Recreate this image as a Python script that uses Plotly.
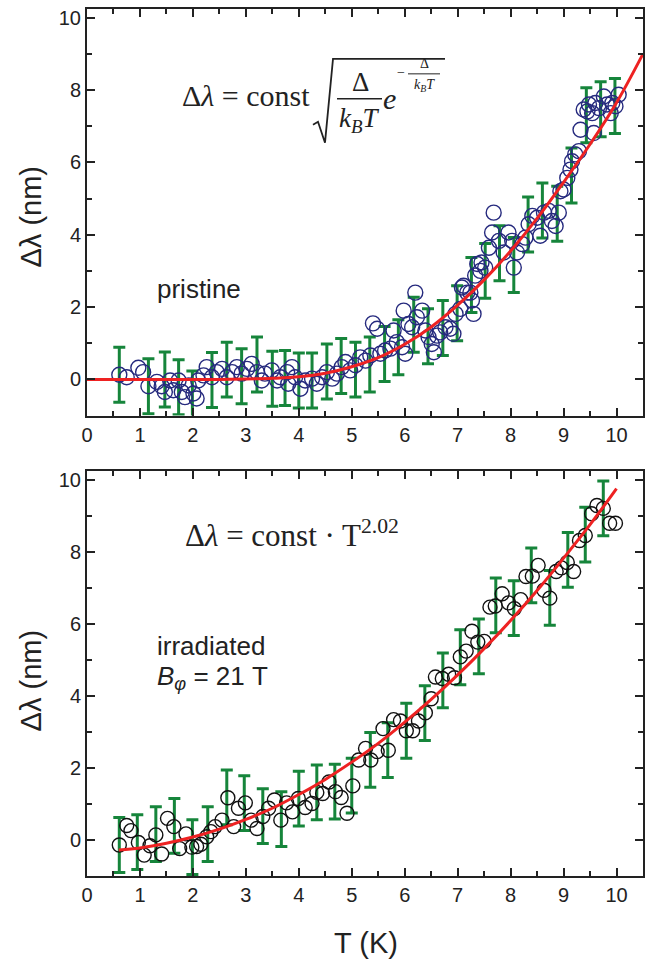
import plotly.graph_objects as go

# ---- pristine (top panel) ----
pristine_T = [0.61, 0.75, 0.97, 1.06, 1.16, 1.32, 1.41, 1.47, 1.57, 1.63, 1.73, 1.79, 1.85, 1.92,
              2.01, 2.07, 2.10, 2.20, 2.26, 2.36, 2.45, 2.55, 2.64, 2.74, 2.83, 2.92, 3.02, 3.11,
              3.21, 3.30, 3.36, 3.49, 3.59, 3.65, 3.78, 3.80, 3.87, 3.93, 4.03, 4.12, 4.25, 4.34,
              4.44, 4.53, 4.63, 4.72, 4.81, 4.88, 4.97, 5.07, 5.16, 5.26, 5.35, 5.40, 5.48, 5.54,
              5.63, 5.73, 5.79, 5.85, 5.95, 5.98, 6.01, 6.07, 6.14, 6.20, 6.23, 6.33, 6.39, 6.45,
              6.51, 6.55, 6.61, 6.67, 6.77, 6.86, 6.92, 6.96, 7.05, 7.08, 7.11, 7.18, 7.24, 7.27,
              7.30, 7.33, 7.37, 7.43, 7.45, 7.52, 7.59, 7.65, 7.68, 7.78, 7.87, 7.96, 8.03, 8.06,
              8.12, 8.22, 8.28, 8.34, 8.41, 8.50, 8.56, 8.63, 8.72, 8.78, 8.85, 8.91, 8.94, 9.00,
              9.07, 9.13, 9.16, 9.22, 9.29, 9.32, 9.38, 9.45, 9.48, 9.54, 9.57, 9.60, 9.67, 9.76,
              9.82, 9.89, 9.92, 9.98, 10.04]
pristine_dl = [0.13, 0.06, 0.32, 0.20, -0.19, -0.07, -0.19, -0.35, -0.03, -0.30, -0.03, -0.35, -0.49, -0.17,
               -0.39, -0.53, -0.03, 0.11, 0.34, 0.06, 0.20, 0.29, 0.06, 0.20, 0.34, 0.16, 0.29, 0.43,
               0.20, -0.03, 0.16, 0.25, -0.03, 0.06, 0.20, -0.12, 0.34, 0.06, -0.26, -0.03, 0.02, -0.12,
               0.06, 0.20, 0.02, 0.16, 0.34, 0.48, 0.25, 0.39, 0.61, 0.52, 0.66, 1.55, 1.40, 0.71,
               0.80, 0.85, 1.35, 1.03, 0.89, 1.90, 0.71, 1.53, 1.44, 2.40, 1.72, 1.90, 1.35, 1.17,
               0.98, 0.75, 1.21, 1.30, 1.44, 1.40, 1.26, 1.81, 1.95, 2.54, 2.59, 2.40, 2.40, 2.18,
               1.81, 2.87, 3.19, 3.00, 3.23, 3.09, 3.64, 4.06, 4.61, 3.83, 3.51, 4.06, 3.83, 3.09,
               3.51, 3.74, 3.92, 4.29, 4.52, 4.47, 3.97, 4.61, 4.66, 4.38, 4.24, 4.61, 5.20, 5.25,
               5.57, 5.80, 6.03, 6.22, 6.31, 6.90, 7.46, 7.41, 7.60, 7.36, 6.81, 7.64, 7.50, 7.82,
               7.60, 7.36, 7.64, 7.55, 7.87]

pristine_err_T = [0.61, 1.16, 1.47, 1.73, 1.99, 2.36, 2.64, 2.92, 3.21, 3.50, 3.74, 4.00, 4.25, 4.53,
                  4.80, 5.07, 5.34, 5.62, 5.88, 6.17, 6.44, 6.72, 6.99, 7.26, 7.52, 7.79, 8.06, 8.33,
                  8.60, 8.88, 9.15, 9.43, 9.70, 9.97]
pristine_err_mid = [0.13, -0.19, 0.00, -0.22, -0.53, -0.02, 0.27, 0.09, 0.41, 0.02, 0.04, -0.03, -0.03, 0.22,
                    0.37, 0.27, 0.41, 0.70, 0.89, 1.51, 1.19, 1.42, 1.83, 2.61, 3.00, 3.49, 3.16, 4.28,
                    4.67, 4.58, 5.64, 7.30, 7.47, 7.56]
pristine_err_half = [0.76] * len(pristine_err_T)

pristine_fit_T = [0.0, 0.5, 1.0, 1.5, 2.0, 2.5, 3.0, 3.5, 4.0, 4.5, 5.0, 5.5, 6.0, 6.5, 7.0, 7.5,
                  8.0, 8.5, 9.0, 9.5, 10.0, 10.5]
pristine_fit_dl = [0.0, 0.0, 0.0, 0.0, 0.0, 0.0, 0.01, 0.03, 0.07, 0.17, 0.35, 0.60, 0.97, 1.45, 2.05, 2.75,
                   3.55, 4.45, 5.45, 6.50, 7.65, 9.00]

# ---- irradiated (bottom panel) ----
irr_T = [0.61, 0.75, 0.83, 0.97, 1.08, 1.19, 1.30, 1.41, 1.52, 1.64, 1.75, 1.87, 1.98, 2.07, 2.15,
         2.26, 2.34, 2.42, 2.55, 2.66, 2.77, 2.86, 2.99, 3.10, 3.21, 3.32, 3.43, 3.54, 3.66, 3.77,
         3.88, 3.99, 4.12, 4.25, 4.34, 4.45, 4.57, 4.69, 4.80, 4.91, 5.02, 5.13, 5.26, 5.36, 5.48,
         5.59, 5.69, 5.79, 5.92, 6.03, 6.15, 6.26, 6.39, 6.50, 6.58, 6.71, 6.83, 6.94, 7.05, 7.16,
         7.27, 7.38, 7.50, 7.61, 7.71, 7.84, 7.96, 8.07, 8.19, 8.29, 8.41, 8.52, 8.63, 8.74, 8.86,
         8.96, 9.07, 9.19, 9.30, 9.41, 9.53, 9.63, 9.75, 9.87, 9.98]
irr_dl = [-0.14, 0.40, 0.26, -0.07, -0.42, -0.16, 0.14, -0.39, 0.60, 0.37, -0.24, 0.17, -0.20, -0.18, -0.12,
          0.09, 0.23, 0.37, 0.55, 1.17, 0.37, 0.88, 1.03, 0.55, 0.32, 0.65, 0.88, 1.11, 0.55, 1.03,
          0.78, 1.15, 0.90, 1.01, 1.32, 1.29, 1.61, 1.34, 1.18, 0.74, 1.50, 2.22, 2.54, 2.22, 2.45,
          3.09, 2.49, 3.34, 3.30, 3.03, 3.03, 3.30, 3.53, 3.92, 4.52, 4.48, 4.60, 4.50, 5.08, 5.24,
          5.79, 5.49, 5.51, 6.46, 6.49, 6.83, 6.58, 6.42, 6.67, 7.31, 7.32, 7.62, 6.93, 6.71, 7.45,
          7.55, 7.70, 7.45, 8.31, 8.45, 9.05, 9.28, 9.20, 8.79, 8.79]

irr_err_T = [0.61, 0.95, 1.30, 1.65, 1.99, 2.28, 2.64, 2.97, 3.32, 3.67, 4.00, 4.34, 4.68, 5.00,
             5.35, 5.68, 6.03, 6.38, 6.72, 7.05, 7.40, 7.72, 8.06, 8.39, 8.74, 9.08, 9.41, 9.75]
irr_err_mid = [-0.14, -0.06, 0.16, 0.39, -0.20, 0.16, 1.18, 1.02, 0.66, 0.58, 1.15, 1.32, 1.34, 1.51,
               2.22, 2.49, 3.03, 3.52, 4.43, 5.07, 5.37, 6.51, 6.43, 7.34, 6.72, 7.77, 8.47, 9.20]
irr_err_half = [0.76] * len(irr_err_T)

irr_fit_T = [0.6, 1.0, 1.5, 2.0, 2.5, 3.0, 3.5, 4.0, 4.5, 5.0, 5.5, 6.0, 6.5, 7.0, 7.5, 8.0,
             8.5, 9.0, 9.5, 10.0]
irr_fit_dl = [-0.28, -0.22, -0.09, 0.08, 0.30, 0.57, 0.88, 1.26, 1.68, 2.16, 2.68, 3.27, 3.90, 4.58,
              5.31, 6.09, 6.92, 7.82, 8.75, 9.75]

x_ticks = list(range(0, 11))
y_ticks = [0, 2, 4, 6, 8, 10]

GREEN = "#16853b"
RED = "#ee2222"
NAVY = "#262a7e"
SANS = "Liberation Sans, Arial, sans-serif"
SERIF = "Liberation Serif, Times New Roman, serif"

W, H = 653, 966
ML, MR, MT, MB = 87, 10, 7, 90


def px(xp):
    return (xp - ML) / (W - ML - MR)


def py(yp):
    return (H - MB - yp) / (H - MT - MB)


fig = go.Figure()

panels = [
    ("", "y", pristine_T, pristine_dl, pristine_err_T, pristine_err_mid, pristine_err_half,
     pristine_fit_T, pristine_fit_dl, NAVY, 15),
    ("2", "y2", irr_T, irr_dl, irr_err_T, irr_err_mid, irr_err_half,
     irr_fit_T, irr_fit_dl, "#111111", 14),
]
for sfx, yname, T, dl, eT, emid, ehalf, fT, fdl, mcol, msize in panels:
    xa = "x" + sfx
    fig.add_trace(go.Scatter(x=eT, y=emid, mode="markers", xaxis=xa, yaxis=yname,
                             marker=dict(size=1, opacity=0),
                             error_y=dict(type="data", array=ehalf, color=GREEN, thickness=3, width=6),
                             showlegend=False, hoverinfo="skip"))
    fig.add_trace(go.Scatter(x=T, y=dl, mode="markers", xaxis=xa, yaxis=yname,
                             marker=dict(symbol="circle-open", size=msize, color=mcol,
                                         line=dict(width=1.4, color=mcol)),
                             showlegend=False))
    fig.add_trace(go.Scatter(x=fT, y=fdl, mode="lines", xaxis=xa, yaxis=yname,
                             line=dict(color=RED, width=3, shape="spline"),
                             showlegend=False))

axis_common = dict(showline=True, linewidth=2, linecolor="#222", mirror="allticks",
                   ticks="inside", ticklen=8, tickwidth=1.5, tickcolor="#222",
                   showgrid=False, zeroline=False,
                   tickfont=dict(family=SANS, size=20, color="#222"))
xaxis = dict(axis_common, range=[0, 10.5], tickvals=x_ticks,
             minor=dict(ticks="inside", ticklen=5, tickwidth=1.5, tickcolor="#222", dtick=0.5,
                        tick0=0, showgrid=False))
yaxis = dict(axis_common, range=[-1, 10.24], tickvals=y_ticks,
             minor=dict(ticks="inside", ticklen=5, tickwidth=1.5, tickcolor="#222", dtick=1,
                        tick0=0, showgrid=False))

top_dom = [py(414.5), 1.0]
bot_dom = [0.0, py(470)]

fig.update_layout(
    width=W, height=H,
    margin=dict(l=ML, r=MR, t=MT, b=MB),
    paper_bgcolor="white", plot_bgcolor="white",
    xaxis=dict(xaxis, anchor="y"),
    yaxis=dict(yaxis, domain=top_dom, anchor="x"),
    xaxis2=dict(xaxis, anchor="y2"),
    yaxis2=dict(yaxis, domain=bot_dom, anchor="x2"),
)

ann = []


def text(xp, yp, s, size, family=SANS, xanchor="center", angle=0):
    ann.append(dict(x=px(xp), y=py(yp), xref="paper", yref="paper", text=s, showarrow=False,
                    xanchor=xanchor, yanchor="middle", textangle=angle,
                    font=dict(family=family, size=size, color="#222")))


# axis titles
text(31, 215, "Δλ (nm)", 29, angle=-90)
text(31, 680, "Δλ (nm)", 29, angle=-90)
text(366, 943, "T (K)", 29)

# panel labels
text(155, 288, "pristine", 26, xanchor="left")
text(155, 645, "irradiated", 26, xanchor="left")
text(155, 677, "<i>B</i><sub><i>φ</i></sub> = 21 T", 26, xanchor="left")

# bottom formula
text(292, 533, "Δ<i>λ</i> = const · T<sup>2.02</sup>", 31, family=SERIF)

# top formula
text(246, 94, "Δ<i>λ</i> = const", 30, family=SERIF)
text(360, 80, "Δ", 27, family=SERIF)
text(359, 118, "<i>k</i><sub><i>B</i></sub><i>T</i>", 27, family=SERIF)
text(389, 97, "<i>e</i>", 30, family=SERIF)
text(401, 71, "−", 14, family=SERIF)
text(424, 62, "Δ", 14, family=SERIF)
text(424, 84, "<i>k</i><sub><i>B</i></sub><i>T</i>", 14, family=SERIF)

fig.update_layout(annotations=ann)

# radical sign and fraction bars
rad = [(313, 123), (318, 120), (325, 141), (333, 57), (445, 57)]
path = "M " + " L ".join(f"{px(a):.5f},{py(b):.5f}" for a, b in rad)
fig.add_shape(type="path", path=path, xref="paper", yref="paper",
              line=dict(color="#222", width=1.8))
fig.add_shape(type="line", x0=px(337), x1=px(382), y0=py(97), y1=py(97),
              xref="paper", yref="paper", line=dict(color="#222", width=1.5))
fig.add_shape(type="line", x0=px(408), x1=px(440), y0=py(72), y1=py(72),
              xref="paper", yref="paper", line=dict(color="#222", width=1))

# the page body has a default 8px margin; drop it so the figure sits at the corner
fig.write_html("out.html", config={"displayModeBar": False},
               post_script="document.body.style.margin='0';")
